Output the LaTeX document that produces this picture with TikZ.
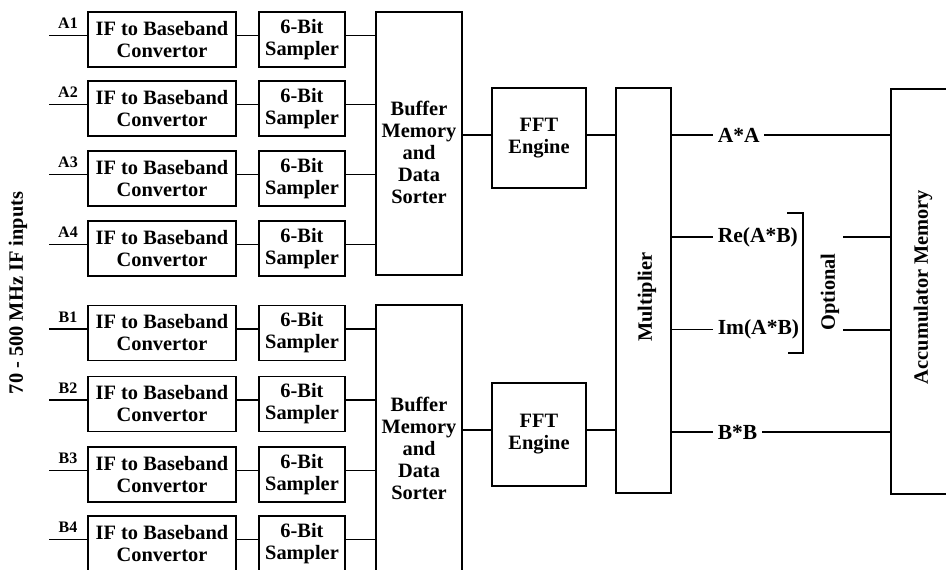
\documentclass[tikz,border=0pt]{standalone}
\usepackage{fontspec}
\setmainfont{Liberation Serif}
\begin{document}
\begin{tikzpicture}[x=1pt,y=-1pt,line width=1.6pt,
  fnt/.style={font=\bfseries\fontsize{20.4}{22}\selectfont},
  box/.style={draw,line width=1.6pt,inner sep=0pt,align=center,fnt},
  txt/.style={inner sep=0pt,align=center,fnt},
  inlab/.style={inner sep=0pt,font=\bfseries\fontsize{16}{18}\selectfont},
  outlab/.style={inner ysep=0pt,inner xsep=4pt,anchor=west,font=\bfseries\fontsize{21.5}{23}\selectfont}]
\useasboundingbox (0,0) rectangle (946,570);
\clip (0,0) rectangle (946,570);
% buffers
\node[box,minimum width=86,minimum height=263] (bufA) at (419,143.5) {};
\node[txt] (bufAt) at (419,152) {Buffer\\Memory\\and\\Data\\Sorter};
\node[box,minimum width=86,minimum height=275] (bufB) at (419,442.5) {};
\node[txt] (bufBt) at (419,448) {Buffer\\Memory\\and\\Data\\Sorter};
% input rows
\foreach \n/\lab/\c/\buf in {1/A1/39.5/bufA,2/A2/108.5/bufA,3/A3/178.5/bufA,4/A4/248.5/bufA,
                             5/B1/333/bufB,6/B2/404/bufB,7/B3/474.5/bufB,8/B4/543.5/bufB}{
  \node[box,minimum width=148,minimum height=55] (if\n) at (162,\c) {IF to Baseband\\Convertor};
  \node[box,minimum width=86,minimum height=55] (s\n) at (302,\c) {6-Bit\\Sampler};
  \coordinate (in\n) at (49,\c-4);
  \node[inlab] (lab\n) at (68,\c-16) {\lab};
  \draw (in\n) -- (if\n.west |- in\n);
  \draw (if\n.east |- in\n) -- (s\n.west |- in\n);
  \draw (s\n.east |- in\n) -- (\buf.west |- in\n);
}
% side label
\node[txt,rotate=90] (iflabel) at (18,293) {70 - 500 MHz IF inputs};
% FFT engines
\node[box,minimum width=94,minimum height=100] (fftA) at (539,138) {FFT\\Engine};
\node[box,minimum width=94,minimum height=103] (fftB) at (539,434.5) {FFT\\Engine};
% multiplier
\node[box,minimum width=55,minimum height=405] (mult) at (643.5,290.5) {};
\node[txt,rotate=90] (multt) at (647,297) {Multiplier};
\coordinate (ya) at (0,135);
\coordinate (yb) at (0,430);
\draw (bufA.east |- ya) -- (fftA.west |- ya);
\draw (fftA.east |- ya) -- (mult.west |- ya);
\draw (bufB.east |- yb) -- (fftB.west |- yb);
\draw (fftB.east |- yb) -- (mult.west |- yb);
% accumulator
\node[box,minimum width=80,minimum height=405] (acc) at (931,291.5) {};
\node[txt,rotate=90] (acct) at (923,287) {Accumulator Memory};
% outputs
\node[outlab] (aa) at (713,135) {A*A};
\node[outlab] (re) at (713,237) {Re(A*B)};
\node[outlab] (im) at (713,329.5) {Im(A*B)};
\node[outlab] (bb) at (713,432) {B*B};
\draw (mult.east |- aa) -- (aa.west);
\draw (aa.east) -- (acc.west |- aa);
\draw (mult.east |- re) -- (re.west);
\draw (mult.east |- im) -- (im.west);
\draw (mult.east |- bb) -- (bb.west);
\draw (bb.east) -- (acc.west |- bb);
% optional bracket
\coordinate (br1) at (788,213);
\coordinate (br2) at (788,353);
\draw ([xshift=-0.8pt]br1) -- ++(16,0) |- (br2);
\node[txt,rotate=90] (opt) at (830,292) {Optional};
\coordinate (o1) at (843,237);
\coordinate (o2) at (843,330);
\draw (o1) -- (acc.west |- o1);
\draw (o2) -- (acc.west |- o2);
\end{tikzpicture}
\end{document}
